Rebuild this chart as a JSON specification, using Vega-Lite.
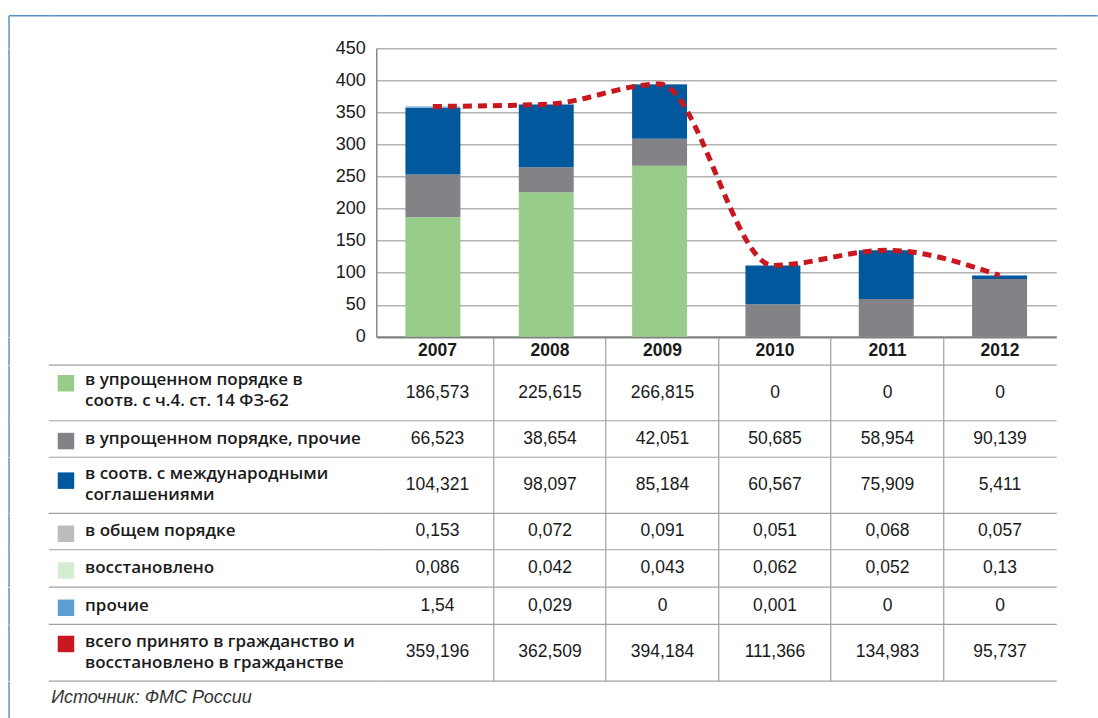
{
"$schema": "https://vega.github.io/schema/vega-lite/v6.json",
"padding": {"left": 7.25, "top": 12.25, "right": 0, "bottom": 0},
"datasets": {
"values": [
{"series":"s1","year":"2007","v":186.573},{"series":"s1","year":"2008","v":225.615},{"series":"s1","year":"2009","v":266.815},{"series":"s1","year":"2010","v":0},{"series":"s1","year":"2011","v":0},{"series":"s1","year":"2012","v":0},
{"series":"s2","year":"2007","v":66.523},{"series":"s2","year":"2008","v":38.654},{"series":"s2","year":"2009","v":42.051},{"series":"s2","year":"2010","v":50.685},{"series":"s2","year":"2011","v":58.954},{"series":"s2","year":"2012","v":90.139},
{"series":"s3","year":"2007","v":104.321},{"series":"s3","year":"2008","v":98.097},{"series":"s3","year":"2009","v":85.184},{"series":"s3","year":"2010","v":60.567},{"series":"s3","year":"2011","v":75.909},{"series":"s3","year":"2012","v":5.411},
{"series":"s4","year":"2007","v":0.153},{"series":"s4","year":"2008","v":0.072},{"series":"s4","year":"2009","v":0.091},{"series":"s4","year":"2010","v":0.051},{"series":"s4","year":"2011","v":0.068},{"series":"s4","year":"2012","v":0.057},
{"series":"s5","year":"2007","v":0.086},{"series":"s5","year":"2008","v":0.042},{"series":"s5","year":"2009","v":0.043},{"series":"s5","year":"2010","v":0.062},{"series":"s5","year":"2011","v":0.052},{"series":"s5","year":"2012","v":0.13},
{"series":"s6","year":"2007","v":1.54},{"series":"s6","year":"2008","v":0.029},{"series":"s6","year":"2009","v":0},{"series":"s6","year":"2010","v":0.001},{"series":"s6","year":"2011","v":0},{"series":"s6","year":"2012","v":0},
{"series":"s7","year":"2007","v":359.196},{"series":"s7","year":"2008","v":362.509},{"series":"s7","year":"2009","v":394.184},{"series":"s7","year":"2010","v":111.366},{"series":"s7","year":"2011","v":134.983},{"series":"s7","year":"2012","v":95.737}
],
"labels": [
{"series":"s1","label":"в упрощенном порядке в\nсоотв. с ч.4. ст. 14 ФЗ-62"},
{"series":"s2","label":"в упрощенном порядке, прочие"},
{"series":"s3","label":"в соотв. с международными\nсоглашениями"},
{"series":"s4","label":"в общем порядке"},
{"series":"s5","label":"восстановлено"},
{"series":"s6","label":"прочие"},
{"series":"s7","label":"всего принято в гражданство и\nвосстановлено в гражданстве"}
],
"one": [{"k":"a"}],
"source": [{"src":"Источник: ФМС России"}]
},
"columns": 2,
"spacing": 0,
"bounds": "flush",
"align": "each",
"resolve": {"scale": {"x":"independent","y":"independent","color":"independent"}},
"concat": [
{"width":328,"height":32.7,"data":{"name":"one"},"mark":{"type":"point","opacity":0},
 "encoding":{
  "x":{"field":"k","type":"nominal","scale":{"type":"point","align":0},"axis":{"orient":"top","domainColor":"#5b8fc7","domainWidth":1.5,"title":null}},
  "y":{"field":"k","type":"nominal","scale":{"type":"point","align":0},"axis":{"orient":"left","offset":39.7,"domainColor":"#5b8fc7","domainWidth":1.5,"ticks":true,"tickSize":-39.7,"tickColor":"#5b8fc7","tickWidth":1.5,"title":null}}
 }},
{"width":680,"height":32.7,"data":{"name":"one"},"mark":{"type":"point","opacity":0},
 "encoding":{
  "x":{"field":"k","type":"nominal","scale":{"type":"point","align":0},"axis":{"orient":"top","domainColor":"#5b8fc7","domainWidth":1.5,"title":null}},
  "y":{"field":"k","type":"nominal","scale":{"type":"point","align":0},"axis":{"orient":"right","domain":false,"ticks":true,"tickSize":41,"tickColor":"#5b8fc7","tickWidth":1.5,"title":null}}
 }},
{"width":328,"height":288.6,"data":{"name":"one"},"mark":{"type":"point","opacity":0},
 "encoding":{"y":{"field":"k","type":"nominal","scale":{"type":"point"},"axis":{"orient":"left","offset":39.7,"domainColor":"#5b8fc7","domainWidth":1.5,"title":null}}}},
{"width":680,"height":288.6,
 "data":{"name":"values"},
 "encoding":{
  "x":{"field":"year","type":"nominal","scale":{"type":"band","paddingInner":0.515,"paddingOuter":0.2575},"axis":{"orient":"bottom","domainColor":"#7f7f7f","domainWidth":2,"title":null}},
  "y":{"field":"v","type":"quantitative","stack":"zero","scale":{"domain":[0,450],"nice":false},"axis":{"values":[0,50,100,150,200,250,300,350,400,450],"labelOverlap":false,"labels":true,"labelFontSize":18,"labelPadding":11,"grid":true,"gridColor":"#b3b3b3","gridWidth":1.3,"domainColor":"#8a8a8a","domainWidth":1.5,"title":null}}
 },
 "layer":[
  {"transform":[{"filter":"datum.series !== 's7'"}],
   "mark":{"type":"bar"},
   "encoding":{
    "color":{"field":"series","type":"nominal","scale":{"domain":["s1","s2","s3","s4","s5","s6","s7"],"range":["#97cc8a","#838387","#02589c","#bbbcbe","#d4ecd0","#5b9fd1","#c8171e"]},"legend":null},
    "order":{"field":"series","type":"ordinal","sort":"ascending"}
   }},
  {"transform":[{"filter":"datum.series === 's7'"}],
   "mark":{"type":"line","interpolate":"monotone","strokeDash":[9,6],"strokeWidth":5,"color":"#c8171e"}}
 ]},
{"width":328,"height":27.4,"data":{"name":"one"},"mark":{"type":"point","opacity":0},
 "encoding":{
  "x":{"field":"k","type":"nominal","scale":{"type":"point"},"axis":{"orient":"bottom","title":null}},
  "y":{"field":"k","type":"nominal","scale":{"type":"point"},"axis":{"orient":"left","offset":39.7,"domainColor":"#5b8fc7","domainWidth":1.5,"title":null}}
 }},
{"width":680,"height":27.4,"data":{"name":"values"},"transform":[{"filter":"datum.series === 's1'"}],
 "mark":{"type":"text","fontWeight":"bold","fontSize":17.5},
 "encoding":{
  "x":{"field":"year","type":"nominal","scale":{"type":"band","paddingInner":0,"paddingOuter":0.0222,"align":1},"axis":{"orient":"bottom","grid":true,"gridColor":"#a0a0a0","gridWidth":1.2,"bandPosition":0,"values":["2008","2009","2010","2011","2012"],"title":null}},
  "text":{"field":"year"}
 }},

{"width":328,"height":55,"data":{"name":"labels"},"transform":[{"filter":"datum.series === 's1'"}],
 "layer":[
  {"mark":{"type":"square","size":272,"opacity":1,"filled":true},
   "encoding":{
    "x":{"field":"series","type":"nominal","scale":{"type":"point","align":0.054},"axis":{"orient":"bottom","title":null}},
    "y":{"field":"series","type":"nominal","scale":{"type":"point","align":0.327},"axis":{"orient":"left","offset":39.7,"domainColor":"#5b8fc7","domainWidth":1.5,"title":null}},
    "color":{"field":"series","type":"nominal","scale":{"domain":["s1","s2","s3","s4","s5","s6","s7"],"range":["#97cc8a","#838387","#02589c","#bbbcbe","#d4ecd0","#5b9fd1","#c8171e"]},"legend":null}
   }},
  {"mark":{"type":"text","align":"left","baseline":"middle","lineBreak":"\n","font":"Open Sans","fontWeight":600,"fontSize":17,"lineHeight":21},
   "encoding":{
    "x":{"field":"series","type":"nominal","scale":{"type":"point","align":0.112},"axis":null},
    "y":{"field":"series","type":"nominal","scale":{"type":"point","align":0.265},"axis":null},
    "text":{"field":"label"}
   }}
 ],
 "resolve":{"scale":{"x":"independent","y":"independent"}}},
{"width":680,"height":55,"data":{"name":"values"},"transform":[{"filter":"datum.series === 's1'"}],
 "mark":{"type":"text","fontSize":17.5},
 "encoding":{
  "x":{"field":"year","type":"nominal","scale":{"type":"band","paddingInner":0,"paddingOuter":0.0222,"align":1},"axis":{"orient":"bottom","grid":true,"gridColor":"#a0a0a0","gridWidth":1.2,"bandPosition":0,"values":["2008","2009","2010","2011","2012"],"title":null}},
  "text":{"field":"v","type":"quantitative","format":"~g"}
 }},

{"width":328,"height":36.5,"data":{"name":"labels"},"transform":[{"filter":"datum.series === 's2'"}],
 "layer":[
  {"mark":{"type":"square","size":272,"opacity":1,"filled":true},
   "encoding":{
    "x":{"field":"series","type":"nominal","scale":{"type":"point","align":0.054},"axis":{"orient":"bottom","title":null}},
    "y":{"field":"series","type":"nominal","scale":{"type":"point","align":0.57},"axis":{"orient":"left","offset":39.7,"domainColor":"#5b8fc7","domainWidth":1.5,"title":null}},
    "color":{"field":"series","type":"nominal","scale":{"domain":["s1","s2","s3","s4","s5","s6","s7"],"range":["#97cc8a","#838387","#02589c","#bbbcbe","#d4ecd0","#5b9fd1","#c8171e"]},"legend":null}
   }},
  {"mark":{"type":"text","align":"left","baseline":"middle","lineBreak":"\n","font":"Open Sans","fontWeight":600,"fontSize":17,"lineHeight":21},
   "encoding":{
    "x":{"field":"series","type":"nominal","scale":{"type":"point","align":0.112},"axis":null},
    "text":{"field":"label"}
   }}
 ],
 "resolve":{"scale":{"x":"independent","y":"independent"}}},
{"width":680,"height":36.5,"data":{"name":"values"},"transform":[{"filter":"datum.series === 's2'"}],
 "mark":{"type":"text","fontSize":17.5},
 "encoding":{
  "x":{"field":"year","type":"nominal","scale":{"type":"band","paddingInner":0,"paddingOuter":0.0222,"align":1},"axis":{"orient":"bottom","grid":true,"gridColor":"#a0a0a0","gridWidth":1.2,"bandPosition":0,"values":["2008","2009","2010","2011","2012"],"title":null}},
  "text":{"field":"v","type":"quantitative","format":"~g"}
 }},

{"width":328,"height":55.7,"data":{"name":"labels"},"transform":[{"filter":"datum.series === 's3'"}],
 "layer":[
  {"mark":{"type":"square","size":272,"opacity":1,"filled":true},
   "encoding":{
    "x":{"field":"series","type":"nominal","scale":{"type":"point","align":0.054},"axis":{"orient":"bottom","title":null}},
    "y":{"field":"series","type":"nominal","scale":{"type":"point","align":0.42},"axis":{"orient":"left","offset":39.7,"domainColor":"#5b8fc7","domainWidth":1.5,"title":null}},
    "color":{"field":"series","type":"nominal","scale":{"domain":["s1","s2","s3","s4","s5","s6","s7"],"range":["#97cc8a","#838387","#02589c","#bbbcbe","#d4ecd0","#5b9fd1","#c8171e"]},"legend":null}
   }},
  {"mark":{"type":"text","align":"left","baseline":"middle","lineBreak":"\n","font":"Open Sans","fontWeight":600,"fontSize":17,"lineHeight":21},
   "encoding":{
    "x":{"field":"series","type":"nominal","scale":{"type":"point","align":0.112},"axis":null},
    "y":{"field":"series","type":"nominal","scale":{"type":"point","align":0.294},"axis":null},
    "text":{"field":"label"}
   }}
 ],
 "resolve":{"scale":{"x":"independent","y":"independent"}}},
{"width":680,"height":55.7,"data":{"name":"values"},"transform":[{"filter":"datum.series === 's3'"}],
 "mark":{"type":"text","fontSize":17.5},
 "encoding":{
  "x":{"field":"year","type":"nominal","scale":{"type":"band","paddingInner":0,"paddingOuter":0.0222,"align":1},"axis":{"orient":"bottom","grid":true,"gridColor":"#a0a0a0","gridWidth":1.2,"bandPosition":0,"values":["2008","2009","2010","2011","2012"],"title":null}},
  "text":{"field":"v","type":"quantitative","format":"~g"}
 }},

{"width":328,"height":36,"data":{"name":"labels"},"transform":[{"filter":"datum.series === 's4'"}],
 "layer":[
  {"mark":{"type":"square","size":272,"opacity":1,"filled":true},
   "encoding":{
    "x":{"field":"series","type":"nominal","scale":{"type":"point","align":0.054},"axis":{"orient":"bottom","title":null}},
    "y":{"field":"series","type":"nominal","scale":{"type":"point","align":0.57},"axis":{"orient":"left","offset":39.7,"domainColor":"#5b8fc7","domainWidth":1.5,"title":null}},
    "color":{"field":"series","type":"nominal","scale":{"domain":["s1","s2","s3","s4","s5","s6","s7"],"range":["#97cc8a","#838387","#02589c","#bbbcbe","#d4ecd0","#5b9fd1","#c8171e"]},"legend":null}
   }},
  {"mark":{"type":"text","align":"left","baseline":"middle","lineBreak":"\n","font":"Open Sans","fontWeight":600,"fontSize":17,"lineHeight":21},
   "encoding":{
    "x":{"field":"series","type":"nominal","scale":{"type":"point","align":0.112},"axis":null},
    "text":{"field":"label"}
   }}
 ],
 "resolve":{"scale":{"x":"independent","y":"independent"}}},
{"width":680,"height":36,"data":{"name":"values"},"transform":[{"filter":"datum.series === 's4'"}],
 "mark":{"type":"text","fontSize":17.5},
 "encoding":{
  "x":{"field":"year","type":"nominal","scale":{"type":"band","paddingInner":0,"paddingOuter":0.0222,"align":1},"axis":{"orient":"bottom","grid":true,"gridColor":"#a0a0a0","gridWidth":1.2,"bandPosition":0,"values":["2008","2009","2010","2011","2012"],"title":null}},
  "text":{"field":"v","type":"quantitative","format":"~g"}
 }},

{"width":328,"height":37.3,"data":{"name":"labels"},"transform":[{"filter":"datum.series === 's5'"}],
 "layer":[
  {"mark":{"type":"square","size":272,"opacity":1,"filled":true},
   "encoding":{
    "x":{"field":"series","type":"nominal","scale":{"type":"point","align":0.054},"axis":{"orient":"bottom","title":null}},
    "y":{"field":"series","type":"nominal","scale":{"type":"point","align":0.57},"axis":{"orient":"left","offset":39.7,"domainColor":"#5b8fc7","domainWidth":1.5,"title":null}},
    "color":{"field":"series","type":"nominal","scale":{"domain":["s1","s2","s3","s4","s5","s6","s7"],"range":["#97cc8a","#838387","#02589c","#bbbcbe","#d4ecd0","#5b9fd1","#c8171e"]},"legend":null}
   }},
  {"mark":{"type":"text","align":"left","baseline":"middle","lineBreak":"\n","font":"Open Sans","fontWeight":600,"fontSize":17,"lineHeight":21},
   "encoding":{
    "x":{"field":"series","type":"nominal","scale":{"type":"point","align":0.112},"axis":null},
    "text":{"field":"label"}
   }}
 ],
 "resolve":{"scale":{"x":"independent","y":"independent"}}},
{"width":680,"height":37.3,"data":{"name":"values"},"transform":[{"filter":"datum.series === 's5'"}],
 "mark":{"type":"text","fontSize":17.5},
 "encoding":{
  "x":{"field":"year","type":"nominal","scale":{"type":"band","paddingInner":0,"paddingOuter":0.0222,"align":1},"axis":{"orient":"bottom","grid":true,"gridColor":"#a0a0a0","gridWidth":1.2,"bandPosition":0,"values":["2008","2009","2010","2011","2012"],"title":null}},
  "text":{"field":"v","type":"quantitative","format":"~g"}
 }},

{"width":328,"height":36.7,"data":{"name":"labels"},"transform":[{"filter":"datum.series === 's6'"}],
 "layer":[
  {"mark":{"type":"square","size":272,"opacity":1,"filled":true},
   "encoding":{
    "x":{"field":"series","type":"nominal","scale":{"type":"point","align":0.054},"axis":{"orient":"bottom","title":null}},
    "y":{"field":"series","type":"nominal","scale":{"type":"point","align":0.56},"axis":{"orient":"left","offset":39.7,"domainColor":"#5b8fc7","domainWidth":1.5,"title":null}},
    "color":{"field":"series","type":"nominal","scale":{"domain":["s1","s2","s3","s4","s5","s6","s7"],"range":["#97cc8a","#838387","#02589c","#bbbcbe","#d4ecd0","#5b9fd1","#c8171e"]},"legend":null}
   }},
  {"mark":{"type":"text","align":"left","baseline":"middle","lineBreak":"\n","font":"Open Sans","fontWeight":600,"fontSize":17,"lineHeight":21},
   "encoding":{
    "x":{"field":"series","type":"nominal","scale":{"type":"point","align":0.112},"axis":null},
    "text":{"field":"label"}
   }}
 ],
 "resolve":{"scale":{"x":"independent","y":"independent"}}},
{"width":680,"height":36.7,"data":{"name":"values"},"transform":[{"filter":"datum.series === 's6'"}],
 "mark":{"type":"text","fontSize":17.5},
 "encoding":{
  "x":{"field":"year","type":"nominal","scale":{"type":"band","paddingInner":0,"paddingOuter":0.0222,"align":1},"axis":{"orient":"bottom","grid":true,"gridColor":"#a0a0a0","gridWidth":1.2,"bandPosition":0,"values":["2008","2009","2010","2011","2012"],"title":null}},
  "text":{"field":"v","type":"quantitative","format":"~g"}
 }},

{"width":328,"height":56.3,"data":{"name":"labels"},"transform":[{"filter":"datum.series === 's7'"}],
 "layer":[
  {"mark":{"type":"square","size":272,"opacity":1,"filled":true},
   "encoding":{
    "x":{"field":"series","type":"nominal","scale":{"type":"point","align":0.054},"axis":{"orient":"bottom","title":null}},
    "y":{"field":"series","type":"nominal","scale":{"type":"point","align":0.35},"axis":{"orient":"left","offset":39.7,"domainColor":"#5b8fc7","domainWidth":1.5,"title":null}},
    "color":{"field":"series","type":"nominal","scale":{"domain":["s1","s2","s3","s4","s5","s6","s7"],"range":["#97cc8a","#838387","#02589c","#bbbcbe","#d4ecd0","#5b9fd1","#c8171e"]},"legend":null}
   }},
  {"mark":{"type":"text","align":"left","baseline":"middle","lineBreak":"\n","font":"Open Sans","fontWeight":600,"fontSize":17,"lineHeight":21},
   "encoding":{
    "x":{"field":"series","type":"nominal","scale":{"type":"point","align":0.112},"axis":null},
    "y":{"field":"series","type":"nominal","scale":{"type":"point","align":0.307},"axis":null},
    "text":{"field":"label"}
   }}
 ],
 "resolve":{"scale":{"x":"independent","y":"independent"}}},
{"width":680,"height":56.3,"data":{"name":"values"},"transform":[{"filter":"datum.series === 's7'"}],
 "mark":{"type":"text","fontSize":17.5},
 "encoding":{
  "x":{"field":"year","type":"nominal","scale":{"type":"band","paddingInner":0,"paddingOuter":0.0222,"align":1},"axis":{"orient":"bottom","grid":true,"gridColor":"#a0a0a0","gridWidth":1.2,"bandPosition":0,"values":["2008","2009","2010","2011","2012"],"title":null}},
  "text":{"field":"v","type":"quantitative","format":"~g"}
 }},

{"width":328,"height":42,"data":{"name":"source"},
 "mark":{"type":"text","align":"left","baseline":"middle","fontStyle":"italic","fontSize":18,"color":"#333333"},
 "encoding":{
  "x":{"field":"src","type":"nominal","scale":{"type":"point","align":0.009},"axis":null},
  "y":{"field":"src","type":"nominal","scale":{"type":"point","align":0.4},"axis":{"orient":"left","offset":39.7,"domainColor":"#5b8fc7","domainWidth":1.5,"title":null}},
  "text":{"field":"src"}
 }}
],
"config": {
 "view": {"stroke": null},
 "axis": {"labels": false, "ticks": false, "grid": false, "domainColor": "#a0a0a0", "domainWidth": 1.2, "labelFont": "Liberation Sans", "labelColor": "#1a1a1a"},
 "text": {"font": "Liberation Sans", "color": "#1a1a1a"},
 "locale": {"number": {"decimal": ",", "thousands": " ", "grouping": [3], "currency": ["", ""]}}
}
}
